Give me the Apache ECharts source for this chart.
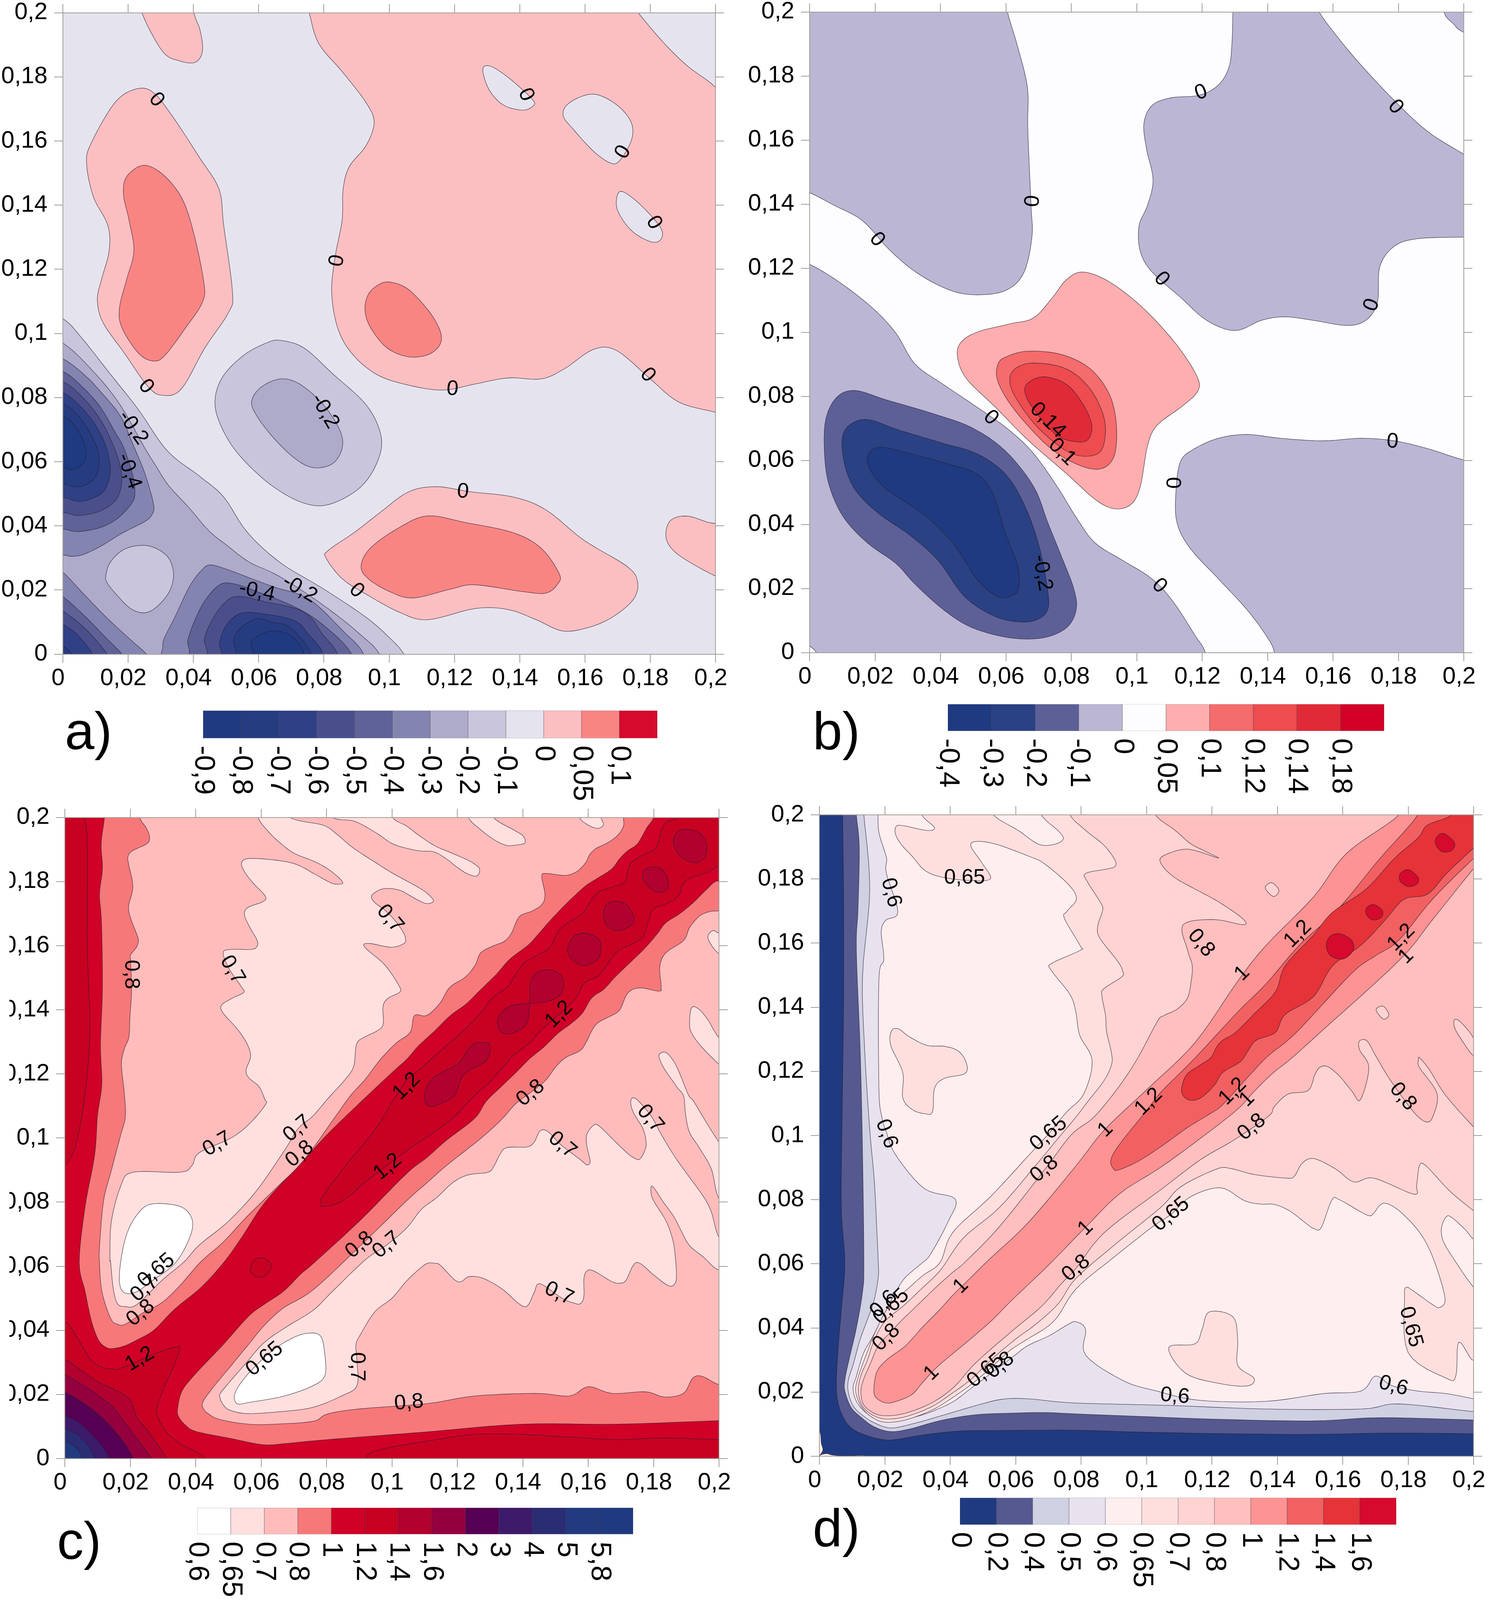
<!DOCTYPE html>
<html>
<head>
<meta charset="utf-8">
<style>html,body{margin:0;padding:0;background:#fff;overflow:hidden}#chart{width:3810px;height:4183px}</style>
<script src="https://cdn.jsdelivr.net/npm/echarts@6/dist/echarts.min.js"></script>
</head>
<body>
<div id="chart"></div>
<script>
// Tick labels (axis values run 0 .. 0.2 with the Polish decimal comma)
const tickLabels = ['0','0,02','0,04','0,06','0,08','0,1','0,12','0,14','0,16','0,18','0,2'];

// Colour-bar categories
const barLabelsA = ['-0,9','-0,8','-0,7','-0,6','-0,5','-0,4','-0,3','-0,2','-0,1','0','0,05','0,1'];
const barLabelsB = ['-0,4','-0,3','-0,2','-0,1','0','0,05','0,1','0,12','0,14','0,18'];
const barLabelsC = ['0,6','0,65','0,7','0,8','1','1,2','1,4','1,6','2','3','4','5','5,8'];
const barLabelsD = ['0','0,2','0,4','0,5','0,6','0,65','0,7','0,8','1','1,2','1,4','1,6'];

const coloursA = ['#1f3a80','#253c81','#2f4085','#4a4f8c','#5f6297','#8484b1','#aeaaca','#c8c5dc','#e5e4ee','#fcbfc1','#f98583','#d60a2c'];
const coloursB = ['#1f3a80','#2a4183','#5d6097','#bab6d4','#fdfdff','#feaeae','#f46c6c','#ee4c4e','#e12a38','#d30027'];
const coloursC = ['#ffffff','#ffe0df','#ffbcbb','#f77879','#d00027','#c70022','#b2002f','#94003e','#550053','#3e1a6b','#2a2d74','#213a80','#1f3a80'];
const coloursD = ['#1f3a80','#56598f','#d0d0e3','#e8e2ef','#ffeeee','#ffdfde','#ffd3d2','#ffbfbe','#fd9393','#f26161','#e53338','#d60a2c'];

// Contour regions: [band index, [x,y, x,y, ...]] in thousandths of the axis unit.
const regionsA = [
[8,[-6,-6,206,-6,206,206,-6,206]],
[9,[74,206,75.5,200,78.4,190.4,85.6,181.6,92.9,172,95.4,165.7,92.9,158.5,87.8,152,85.9,144.9,85.6,135.3,83.5,124.1,82.4,112.9,84.2,101.8,88.5,93.8,95.8,87.4,104.5,84.2,116.1,82.3,126.3,84.2,136.4,86.1,146.6,85.8,153.8,89,162.6,95,169.8,94.6,180,85.8,188.7,78.6,200,75.4,206,74,206,168,200,176.7,191.6,183.2,184.3,190.4,176.3,200,172,206]],
[8,[128.7,182.4,131.3,183.2,137.2,179.2,144,172.8,144,170.8,140.8,169.6,135,171.2,130.6,176]],
[8,[153.3,168,155.4,172,162.6,174.6,169.8,171.2,174.2,165.7,174.2,160.1,170.5,153.7,167.6,153.2,162.6,156.8,156.8,163.2]],
[8,[169.8,142.5,171.5,144.2,177,140.1,183.2,132.9,183.2,129.2,180,128.6,174.2,132.1,170.1,138.1]],
[9,[22,210,24.2,200,30.5,188,35.6,185,40.6,184.5,42.8,188,42.1,194.4,40.2,200,39,210]],
[9,[22.5,176.2,27.6,175.2,33.4,168,42.1,154.5,47.9,144.9,49.3,133.7,52,112.9,50.8,106.5,43.5,95.4,36.3,82.6,30.5,80.7,26.1,83.4,18.9,93.8,12.3,103.4,10.6,110.5,11.9,116.9,14.2,125.7,13.8,133.7,9.4,142.5,7.3,152.9,8.7,159.3,16,172]],
[10,[24.7,152.4,30.5,149.7,36.3,142.5,39.9,132.1,43.2,116.1,42.8,109.7,37.7,101.8,31.2,93,27.6,91.4,23.2,93.8,18.1,101.8,17.4,108.1,19.6,116.9,21.8,125.7,20.3,135.3,18.6,143.3,19.6,148.9]],
[10,[100.1,116,105.9,113.7,112.5,106.5,115.8,100.2,115.4,96.2,111.8,93.3,105.9,92.7,99.4,95.4,94.3,101.8,92.6,107.3,93.6,112.1,96.5,115]],
[9,[81.3,32.3,89.3,37.9,97.3,44.2,106,50.6,114.7,52.2,124.8,50.6,137.9,49,148,45,159.7,35.5,172.7,27.5,176.1,22.7,174.9,17.1,168.4,11.5,161.1,8.3,153.1,7.2,145.1,10.7,136.4,13.9,126.3,14.2,111.8,10.7,103,13.1,92.9,18.7,85.6,23.5,80.7,29.9]],
[10,[111.8,43.1,123.4,41,137.9,37.9,146.6,33,152.1,25.1,151.7,21.9,148,19,140.8,19.5,126.3,21.6,119,20.3,107.4,17.5,100.1,19.5,93.6,23.5,91.4,27.5,94.3,33.1,103,39.4]],
[9,[210,42,200,40.7,191.6,43,186.5,41.9,184.8,37.9,185.8,33.9,190.1,29.9,200,24.3,210,20]],
[7,[66.8,97.8,74,95.4,82.7,87.4,92.9,77.8,97.5,68.2,96.5,60.2,91.4,52.2,82.7,47,75.5,46.6,66.8,50.6,58,57.8,50.8,66.6,46.7,77,48.6,85.8,55.2,93,62.4,97]],
[6,[66.8,85.8,72.6,84.2,79.8,77.8,84.9,69.8,85.6,64.2,82.7,59.4,76.9,58.1,71.1,61,63.9,68.2,58.8,75.4,58,79.4,61,83.4]],
[7,[-10,109,0,104.6,5.8,98.6,14.5,87.4,23.2,76.2,32,63.4,42,55.4,49.3,49,56.6,37.9,66.8,28.4,79.8,20.4,92.9,11.5,100.1,5.1,104.5,0,108,-8,-10,-10]],
[6,[-10,100,0,97,10,87.4,17.7,77.5,25.1,64.3,28.7,58.4,32.4,52.6,38.8,45.5,44.8,38.4,50.3,33.9,57.1,28.7,64.8,25.1,72.6,20.3,82.7,13.1,91.4,5.9,97,0,100,-10,-10,-10]],
[7,[13.2,24.5,14.6,28.7,18.7,32.6,24.2,33.9,28.7,32.9,32.4,30,33.9,25.5,33.3,21,31,17,27.4,13.7,24.2,12.9,20.5,14.4,16.4,18.6,13.6,22.2]],
[5,[-10,96,0,92.1,6.8,86.9,12.3,81,17.8,74,21.4,65.6,25.1,56.5,27.8,46.8,27.4,43.6,25.1,41.3,18.2,37.7,11.4,33.5,5.9,30.9,2.2,30.5,0,30.8,-10,30]],
[4,[-10,92,0,88.2,5.9,83.4,11.4,77.2,15.9,69.4,18.7,64.3,21.4,55.9,22.1,50,21,46.8,16.8,42.3,11.4,39.4,4.5,38.2,0,39,-10,40]],
[3,[-10,88,0,85,6.3,79.8,11.4,73.3,15,66.2,17.3,59.7,18.1,54.6,17.3,50,15,46.8,10.4,44.2,4.5,43.2,0,44.2,-10,45]],
[2,[-10,85,0,81.6,5.4,77.2,10,71.4,13.2,64.9,14.6,57.8,13.6,52.6,11.4,49.7,6.8,47.8,3.6,47.8,0,48.9,-10,50]],
[1,[-10,81,0,78,4.5,74.6,8.1,69.4,10.7,63.6,11.1,59.1,10,55.2,6.8,52.6,3.1,52.2,0,53.1,-10,54]],
[0,[-10,76,0,74,3.1,72,5.9,67.5,7.1,63,6.5,59.7,4,57.8,1.7,57.5,0,58.1,-10,58]],
[5,[-6,30,0,25.6,6.8,18.3,13.6,11.2,20.5,4.7,25.6,0,30,-6,-6,-6]],
[4,[-6,22,0,18,6.8,11.8,13.6,4.7,18.1,0,22,-6,-6,-6]],
[3,[-6,17,0,13.5,6.8,8,13.6,0,16,-6,-6,-6]],
[2,[-6,12,0,9.3,4.5,6,9.2,0,12,-6,-6,-6]],
[1,[-6,5,0,2.5,2.7,0,5,-6,-6,-6]],
[5,[30,-10,30.2,0,30.6,1.5,31,4.7,34.2,11.2,38.8,21,42.5,26.1,45.2,27.8,50.3,26.4,57.1,23.8,64.8,20.9,75.5,17.1,85.6,7.5,92.2,0,94,-10]],
[4,[38,-10,38.8,0,38.4,2.8,38.4,4.7,40.2,9.9,43.4,16.4,48,21.6,52.5,21.9,59.5,19.5,71.1,14.7,79.8,9.1,88.5,0,90,-10]],
[3,[44,-10,44.3,0,43.4,4.7,45.7,10.5,49.3,15.7,53.5,18,61.7,16.4,74,13.1,79.8,5.9,84.2,0,86,-10]],
[2,[48,-10,48.6,0,48,3.4,50.3,9.3,54.8,12.8,61.7,12.5,71.1,10.4,75.5,5.9,79.8,0,81,-10]],
[1,[52.8,-10,53,0,52.4,4.7,54.4,8,59.4,11.1,64,9.9,69.7,8.3,76.2,0,78,-10]],
[0,[58,-10,58.3,0,57.7,3.4,59.4,5.4,63.9,7.2,69.7,5.9,74,0,75,-10]]
];

const regionsB = [
[4,[-6,-6,206,-6,206,206,-6,206]],
[3,[-10,210,59,210,60.5,200,63.4,189.9,66.6,176.4,66.7,163.6,67.7,139.6,68,130,65.6,118.8,60.5,113.3,52.5,111.7,43.8,112.8,33.6,118,24.9,125.2,16.2,134.8,7.5,139.6,0,143.6,-10,148]],
[3,[129.6,210,129.4,200,129.1,189.9,128.2,182.7,125,177.2,119.2,174,110.5,173.2,104.7,170.8,102.2,165.2,103,157.2,105,147.6,103.3,139.6,100.7,133.2,101.1,125.2,104.7,118.8,113.4,110.9,121.4,103.7,130.1,100.5,138.1,103.7,145.3,104.8,154,103.7,164.2,102.1,170,103.7,173.6,109.3,174.3,120.4,178.7,126.8,185.9,129.2,200,129.7,210,130,210,150,200,155.6,188.8,162.8,178.7,172.4,168.5,183.5,161.3,192.3,155.8,200,151,210]],
[3,[192,210,193.9,200,196.8,196.3,200,193.6,210,190,210,210]],
[3,[-10,125,0,121.2,9,115.7,19.1,107.7,26.4,99.7,32.2,90.1,40.9,83.7,52.5,75.7,61.2,69.3,68.5,62.1,75.7,51.8,81.5,42.2,87.3,34.2,96,28.6,104.7,23,111.2,15.8,117.8,5.4,121,0,123,-10,-10,-10]],
[4,[-5,4,0,2,0.4,1.7,2,0,3,-5,-5,-5]],
[3,[210,58,200,60.1,188.8,63.7,178.7,66.1,168.5,66.9,156.9,66.1,143.9,66.9,133.7,68.1,125,66.9,117.8,63.7,113.4,59.7,112,50.2,112.3,40.6,116.3,32.6,125,23,133.7,13.4,139.5,5.4,142.1,0,143,-10,210,-10]],
[2,[14,81.8,23.4,78.9,38,74.5,49.6,70.2,59.8,63,68.5,51.8,72.8,40.6,77.2,29.5,80.8,19.8,81.5,13.4,78.6,7.8,71.4,4.6,61.2,4.6,49.6,7.8,40.9,13.4,32.2,21.4,26.4,27.8,17.7,34.2,10.4,42.2,6.1,51.8,4.6,61.4,4.9,72.6,8.3,79.7]],
[1,[17,72.8,27.8,69.3,40.9,65.3,51.1,62.1,59.8,55.8,65.6,46.2,69.9,34.2,72.5,21.4,72.8,13.4,68.5,9.9,61.2,9.9,54,12.6,46.7,18.2,39.4,28.6,30.7,36.6,20.6,43.8,13.3,51.8,10.2,61.4,10.7,69.3]],
[0,[22,64.1,30.7,62.1,42.3,58.9,51.1,55.8,56.1,49.4,59.8,37.4,63.4,27.8,64.1,21.4,62.7,18.2,57.6,17.4,51.1,23,43.8,34.2,35.1,43,23.5,51,18.4,57.3,18,62.1]],
[5,[83.7,118.8,91.7,115.7,101.8,107.7,111.9,96.5,118.5,86.1,118.5,81.3,113.4,76.5,106.2,70.9,103.3,64.5,101.1,51.8,98.2,46.2,93.1,44.9,87.3,47.8,78.6,55.8,67,66.1,56.9,76.5,48.1,85.3,45.3,91.7,46,96.5,51.1,100,61.2,102.6,68.5,104.5,74.3,110.9,78.6,116.5]],
[6,[67,94.1,77.2,93,85.9,88.5,91.7,80.5,93.8,70.9,93.1,61.3,88.8,57.3,81.5,58.9,72.8,64.5,62.7,75.7,57.6,84.5,57.6,90.1,60.5,92.5]],
[7,[68.5,90.4,78.6,88.5,85.9,82.1,90.2,72.5,89.5,63.7,85.1,61.3,78.6,62.9,69.9,70.1,63.4,78.9,61.2,84.5,62.7,88.5]],
[8,[71.4,86.1,78.6,83.7,83.7,77.3,86.3,70.9,85.1,66.5,81.5,65.8,75.7,67.7,69.9,74.1,66.3,79.7,66.3,83.7]]
];

const regionsC = [
[4,[-6,-6,206,-6,206,206,-6,206]],
// upper-left 1.0 contour
[3,[12,206,12.1,200,11.1,191.8,11.5,184,10.6,176,11.2,167.4,11.5,147.3,10.9,129,11.3,116.8,10,107.1,9.1,94.6,6.2,78.6,4.4,61.3,6.2,52.1,8.1,43,10.2,37.1,12.4,34.8,14.5,34.3,18.2,35.1,22.5,37.2,27.3,40.1,33.7,46.7,41.8,53.5,48.7,61.3,54.1,69,61.4,80.2,73,93,81.7,102.6,99.1,119.5,104.5,124.5,108.1,128.7,113,133.3,117.9,138.2,122.7,141.8,127,146.1,131.9,151,136.1,155.8,141.6,160.1,144.7,163.5,148.3,167.7,152,171.7,155.6,175.3,159.3,178.7,163,181.1,167.2,183.9,169.7,187.2,172.1,189.6,175.1,191.8,177.9,196.7,180,200,181,206]],
// upper-left 0.8 contour
[2,[22.5,206,22.9,200,24.9,196.7,25.9,193.9,25.1,191.8,20.7,189.6,19.3,187.8,19.5,185.4,20.8,178.4,19.5,172.3,20.1,168.6,21.9,163.8,22.5,161.6,21.9,159.5,20.1,157.1,20.1,155.2,20.4,146.1,19.9,137.6,19.6,131.5,18.2,127.8,17.3,123,18.2,113.8,18.5,106.6,17.1,101,14.2,89.8,11.8,80.2,10.6,65.8,10.6,61.3,11.3,52.2,14,43.7,16.1,41.9,18.5,41.9,24.1,45.6,29.5,48.5,34.8,53.5,41.5,61.3,48.3,67.4,55.6,75.4,63.6,83.4,73,93,82.8,106.8,87.4,113.3,91.7,118.1,95.3,123,97.8,126,101.4,129.7,105.6,133,106.9,138.2,110.6,138.2,114.5,141.8,117,146.1,118.8,147.9,122.7,150.4,125.5,154,127.1,157.7,130.7,159.8,134.3,161.3,136.5,163.8,138,167.4,139.5,169.5,142.9,170.8,145.9,172.9,146.8,175.9,145.8,181.7,147.4,182.5,152.6,181.9,155.6,182.6,157.5,183.9,159.3,186,160.5,188.4,162.4,190.3,166,192.1,169.1,194.5,170.8,197.3,170.8,200,171,206]],
// upper-left 0.7 region
[1,[59,206,59.1,200,62.4,195.4,66.1,191.8,70.3,188.7,76.4,186.2,81.3,183.3,85,179.7,82.8,179.2,80.7,179.9,76.4,182.3,70.9,185.3,64.9,186.6,56.6,187.2,54.1,186,54.8,183.3,57.5,179.6,61.2,175.6,60.7,173.8,56,171.9,54.9,169.7,56.3,166.2,58.8,161.6,58.6,159.5,56.6,158.8,50.5,158.8,48.4,157.7,50.2,152.8,53.9,147.3,54.7,145.4,51.4,143.7,48,141.5,48.3,139.1,52.7,134,55.7,129.4,56.8,125.4,55.4,121.2,56.3,118.7,59.4,116,61.1,112.1,61.4,110.5,57,105,51.2,100.2,41.1,95.4,38.9,91.4,35.3,89.3,20.8,89.3,17.1,85,14.2,73.8,13.8,62.6,14,61.3,14.8,53,16.1,48.3,18.5,47.4,22,48,29.7,55.6,36.4,61.3,41.1,66.6,49.8,73.8,58.5,83.4,67.2,96.2,71.3,102.9,75.8,106.8,80.7,112.6,85.6,118.1,88.3,122.3,89.2,129.3,91.7,131.5,95.3,133.3,97.3,135.4,97.3,141.2,99,143.7,102.4,145.5,102.1,147.6,97.8,154,91.7,159.5,92.9,160.7,99.6,159.5,103.2,160.4,104.2,161.6,103.5,164.1,100.8,168,97.8,171.1,94.7,173.5,93.8,175.6,96.5,177.5,99.6,177.8,102.6,177.2,104.5,176.2,108.7,173.8,110.9,173.1,112.7,173.8,111.8,175.3,108.7,177.8,100.2,182.6,95.3,185.7,88,190.6,83.1,194.8,78.9,197.6,68.8,200,68,206]],
[1,[81,206,81.9,200,88.6,198.8,95.3,195.1,100.8,191.5,108.1,189.6,113,189.2,117.3,186.6,119.1,185.1,122.7,182.6,125.9,181.7,126.8,183.9,124.9,185.7,122.1,187.2,117.3,189.3,113,191.2,108.1,194.5,104.5,197.3,100.2,200,99,206]],
[1,[122.5,206,123.4,200,127,196.3,131.3,193,134.9,191.3,137.4,191.3,140.6,192,140.1,194.2,137.4,196,131,200,129,206]],
[1,[156,206,157.4,200,159.4,198,161.8,196.8,163.6,196.7,164.7,197.9,163.9,200,163,206]],
// white basin, upper
[0,[26.6,79.4,35.3,78.6,38.9,74.6,38.2,69,33.8,61,26.6,55.4,21.5,51.8,17.6,52.2,16.7,57.8,18.6,69,22.2,76.2]],
// lower-right 1.0 contour
[3,[206,176,200,180.2,195.9,177.2,192.2,173.5,187.9,169.9,183.7,167.1,181.2,163.8,177.6,159.5,173.3,155.2,168.4,150.4,164.8,146.4,161.1,143.7,158.1,138.8,154.4,135.4,150.8,132.7,146.5,128.4,142.2,124.8,138,120.5,133.1,115.7,128.8,111.4,125.2,106,116.7,99.3,110.6,93.8,104.5,88.9,90,74,75.9,60.8,72.2,57.6,66.9,52.2,61,48.1,56.2,44.4,48.2,35.3,40.2,26.7,35.9,21.2,34.5,15.7,34.8,13,37,10.3,40.2,8.4,50.9,6.2,60.5,4.3,66.9,4.6,75.9,5.5,90.4,6.7,110.7,8.3,139.8,10.7,168.8,10.7,200,11.8,206,12]],
// lower-right 0.8 contour
[2,[206,170.8,200,170.8,197.1,170.6,194,169.2,191,165.6,189.2,161.6,183.7,157.7,181.9,153.4,182.3,147.3,181.7,145.8,175.8,146.8,172.1,145.2,169.7,140,167.2,138.2,162.4,135.4,159.3,129.7,157.5,127.2,153.2,125.1,150.2,122.3,147.1,118.1,143.5,115,138,110.8,134.3,106.6,130.7,103,125.8,98.7,116.7,91.4,110.6,85.9,104.5,80.4,90,66,75.9,52.6,66.9,47,61,41.5,56.2,35.6,50.3,28.3,45.5,22.4,42.3,17.8,42.3,15.7,43.9,13.9,47.6,12.1,56.2,10.7,64.2,10.7,75.9,11.6,80.3,13.9,90.4,15.5,110.7,17.1,125.3,19.5,144.1,20.3,154.3,19.5,160.1,22.4,167.3,20.3,177.5,20.8,183.3,19.2,189.1,20.3,192,25.1,194.9,25.6,200,23,206,22]],
// lower-right 0.7 region
[1,[109,77.7,113.6,81.3,118.8,86.2,123.4,88.5,129.4,89.3,131.3,91.4,133.1,95,135.2,97,141.3,97.2,143.5,98.7,145.3,102.2,147.7,102,151.4,98.1,157.5,93.3,159.6,91.6,160.6,92.7,159.6,97.5,159.6,101.1,161.7,104,163.5,103.6,167.8,99.3,171.5,95.7,173.6,94,175.8,93.4,177.6,96.9,177.6,99.6,176.7,103,173.9,107.8,173,110.9,173.6,112.5,175.4,111.5,179.4,106.6,182.5,100.8,186.7,93.8,191,87.7,195.3,81.6,197.7,76.8,200,68.9,206,60,200,58.8,195.3,62.8,191,66.4,188.6,70.7,186.1,75.6,183.1,79.8,179.7,84.9,179.2,83.2,180,80.4,183.7,74.3,185.5,69.5,186.4,65.2,187,56.7,186,54,184,54.2,180,57.3,175.8,60.9,173.8,60.3,171.5,55.5,169.5,54.7,167.2,55.2,161.7,58.5,159.6,58.5,158.7,56.1,158.7,50.6,157.6,48.3,155.6,48.5,152,50,145.3,54.5,143.5,51.8,141.5,47.7,139.2,48,134.3,52.4,130.7,54.8,127,56.5,123.4,56.7,121.2,55.2,119.1,55.8,114.8,60.3,113,60.9,110.9,60.9,108.7,59.4,104.5,55.4,100,50,94.8,45.8,90.4,38.7,89,35.5,89.3,30.7,89.3,22.7,84.6,19.5,76,16,66.9,14.7,56.2,14,50.9,14.9,48.7,16.4,47.4,19.1,48.2,21.2,55.1,29.4,61,36.2,68,41.2,75.9,46.2,81.7,52,91.9,62,98.4,66.6,104.5,71.9]],
[1,[181.7,126,183.7,126.7,186.1,124,187.9,120.3,190.7,113.3,192.2,111.5,196.5,104.2,200,98.7,206,90,206,75,200,81,197.7,90.2,194,96.9,191,101.7,189.8,107.2,189.2,113,187.3,115.7,183.7,120.9,182.2,123.7]],
[1,[191.6,140.6,193.7,140.3,196.5,137,200,131.2,206,125,206,118,200,123,194.6,128.5,191.6,132.8,191,135.8]],
[1,[196.6,162.8,198.1,164.7,200,163.9,206,162,206,152,200,157.4,197.7,160.1]],
// white basin, lower
[0,[73.7,39,78.1,38.3,79.5,32.3,79.5,25.9,75.9,22.7,67.2,19.5,57,17.6,52.7,17.1,52,20.3,55.6,25.9,62.8,33.1,68.7,37.1]],
// ridge along the diagonal
[5,[187,206,187.3,200,184.3,198.8,182.5,196.3,181.5,192.4,180.3,190,177,188.4,173.3,186,172.1,183.3,171.2,179.9,167.8,178.4,163,176.6,160.5,173.5,158.1,169.9,153.8,167.1,150.8,164.4,148.3,159.5,144.1,156.8,140.4,154.6,137.4,150.4,135.5,147.3,130.7,143.7,127,138.8,122.7,134.2,119.1,130.9,114.2,126.6,108.1,121.1,104.5,118,100.6,112.1,94.8,102.6,84.6,89.8,78.8,81.8,78.4,79.5,78.8,78.6,84.6,80.2,93.3,87.4,104.5,96,113.6,102.3,119.1,106.6,125.2,113.2,129.4,116.9,133.7,121.8,136.8,125.4,142.2,129.7,145.9,133.9,155.6,142.8,158.7,148.2,163,150.4,165.4,153.4,169.1,158.3,173.9,160.7,177,163.2,178.5,168,180,171.4,184.9,173.5,187.9,175.9,189.8,180.2,196.5,182.9,200,185,206,188,206,206]],
[5,[-6,206,6,206,6.2,200,6.9,190.4,6.9,158.5,7.7,134.5,6.2,113.7,3.3,97.7,0,91.4,-6,85]],
[5,[-6,47,0,42.8,1.9,40.8,5.4,34.9,8,30.7,11.3,28.5,14.5,27.9,17.2,28.2,28.4,33,34.3,34.9,35.1,34.1,33.2,28.5,30.5,22.6,28.4,16.7,28.1,14,30.5,9,34.8,4.9,40.2,2.1,42.8,0,45,-6,-6,-6]],
[5,[91,-6,91.9,0,96.2,2.7,110.7,5.4,125.3,7.5,139.8,7.5,154.3,6.7,168.8,5.9,183.3,6.4,200,5.9,206,6,206,-6]],
[5,[60.7,62.6,62.8,61,63.1,59.4,60.7,56.7,58.5,56.7,56.7,58.6,57.8,61.8]],
// 1.4 blobs
[6,[190.3,196.3,194.1,195.1,196.2,191.8,195.9,188.2,194.1,186.2,191.6,186,188.3,187.8,186.4,190.6,186.1,193.3,187.6,195.7]],
[6,[180,184.6,182.8,183.6,184.5,180.2,184,177.5,181.5,176.6,178.8,178.1,176.7,181.1,177.3,183.6]],
[6,[168.4,173.9,171.5,172.9,173.9,169.2,173.3,166.5,169.4,164.7,166,165.9,164.6,169.5,165.7,172.9]],
[6,[159.3,163.9,163.3,161.9,163.9,158.9,163,155.8,159.3,153.8,156.3,154.6,154.1,157,153.8,159.5,155.6,162.9]],
[6,[147.7,152.5,151.4,151,152.5,147.9,151.4,144.6,148.3,142.8,144.1,142.1,142.2,141.5,141.9,138.2,140.4,134.6,135.5,132.4,132.8,133.9,132.4,137,134.3,140,137.4,141.5,141.6,142.1,142.2,143.6,142.2,147.3,143.5,151]],
[6,[127.3,129.8,129.7,129.4,129.9,126.6,128.2,123.6,122.1,119.9,120.3,115.7,118.5,112.6,113,110,110.9,110.2,110,112,110.6,115.7,113.3,119.3,120.3,123.3,123.4,127.8,125.2,129.4]],
// corner at the origin
[6,[-6,33,0,31,4.3,28,10.2,23.9,15,21.6,18.2,19.8,20.4,17.5,22,13,25.2,8.9,28.4,4.3,31.1,0,33,-6,-6,-6]],
[7,[-6,29,0,26.2,5.4,23,10.7,19.4,15,15.7,18.8,10.7,22,6.2,26.5,0,29,-6,-6,-6]],
[8,[-6,23,0,20.7,5.4,17.5,10.7,13.4,15,8.9,18.8,3.9,20.8,0,23,-6,-6,-6]],
[9,[-6,16,0,13.4,4.3,11.2,8.6,7.1,11.8,3.4,13.4,0,15,-6,-6,-6]],
[10,[-6,12,0,9.3,4.3,7.1,7.5,3.4,9.3,0,11,-6,-6,-6]],
[11,[-6,8,0,5.5,3.3,3.4,5.4,0,7,-6,-6,-6]]
];

const regionsD = [
[0,[-6,-6,206,-6,206,206,-6,206]],
[4,[-3,9,0,7.9,0.6,4,1.07,1.96,0,0.14,-3,-3]],
[4,[0,0,2.1,0.8,4,0.35,7.6,0.1,15,0,15,-3,0,-3]],
[1,[7,206,7.1,200,7.4,173.6,7.4,141.7,7,109.7,6.7,77.8,7.8,60.4,6.8,46.7,5.7,33,5.2,21.6,6.2,14.8,9.2,9.3,14,6.6,19.9,5.1,24.1,5.3,31.6,6.6,42.3,7.8,53,8,78,8.1,98,7.5,125,7,150,6.8,175,7.2,200,7,206,7,206,206]],
[2,[11,206,11.3,200,12.2,189.6,11.8,170.4,11.3,157.7,12.5,125.7,13.2,93.8,13.6,60.4,13.2,51.3,11.3,39.9,9.2,30.7,7.8,23.9,7.8,20.3,9.7,15.2,12.9,12,16.7,9.2,21.5,7.7,27.3,8.4,37,11.1,47.6,12.9,58.3,13.4,69,13.6,78,13.2,93,12.6,122,11.5,151,11,171.4,12,200,11.3,206,11.3,206,206]],
[3,[13.5,206,13.6,200,15.4,176.8,13.2,149.7,13.9,125.7,15.4,101.8,16.8,85.8,17.6,69.8,18,60.4,18,55.8,16.7,48.5,14.5,42.1,12.4,36.2,10.3,28.4,8.9,23.9,8.8,20.2,10.3,15.7,13.5,12.5,17.2,10.2,22,8.8,28.9,10.2,36.9,12.5,47.6,15.7,55.6,17.7,63.6,17.9,78,16.6,107.5,15.8,136.6,14.7,165.6,14.7,177.2,16.3,200,13.9,206,13.9,206,206]],
[4,[17.5,206,17.9,200,18.2,194.5,20,188.4,20.6,186,20.5,181.7,24,169.7,20.3,167.1,18.9,163.5,19.7,154.9,18.2,148.8,18.2,114.7,19.1,105.7,20.5,101,23.4,93.8,32.1,83.4,41.5,80.2,39.3,73,34,63,31.6,60.4,28.4,57.7,24.4,53.1,16.7,38,13.5,32.1,11.3,24.8,10.3,21.1,11.6,16.6,15.1,12.9,19.3,11.1,24.1,11.3,31.6,12.9,40.2,16.6,46.3,21.1,58.3,30.3,63.6,34.4,70,37.4,75.9,41,78.5,41.9,81.4,39.5,81.4,31.5,93,23.5,103.2,20.3,116.3,17.4,136.6,17.1,154,19.5,165.6,20.3,170,25,175,22,183,20.3,191.7,19.5,200,17.9,206,17,206,206]],
[5,[31,206,31.3,200,35.2,196,32.8,195.1,26.1,196.5,23.6,196.5,23.2,194.2,24.9,190.9,28.5,186.9,31.9,182.9,36.4,180.8,44.3,179.6,52.2,179.9,49.8,184.8,46.3,190.3,48.5,191.7,54.7,190.6,64.4,186.9,68.7,184.8,76,178.4,78.6,173.8,75.7,169.9,74.9,167.7,79.7,159.2,79.7,157.7,71.1,153.7,70.8,151.6,76.6,144,78.4,138.5,79.6,131.2,83.4,123.3,80.8,112.9,75.4,107.1,69.8,100.2,64,93.8,52.4,81,40.8,69.8,36.9,60.4,31.6,56.3,26.5,51.7,21.5,47.2,17.2,39,14.5,32.1,11.9,24.8,11.1,20.2,12.7,15.7,15.6,12.5,19.9,10.6,26.3,11.3,34.3,14.3,40.2,17.9,46.6,22.5,52.4,27.5,58.3,33,63.1,36.2,71.7,42.1,78.5,52.2,90,62,101.7,71.4,107.5,75.4,113.5,80.9,122.6,83.7,129.9,79.7,134.8,78.6,139.1,78.5,143.9,76.4,149.4,72.1,151.2,71,153.4,71.2,156.7,79.9,159.1,79.9,167.4,75.2,169.5,75.8,171.3,78.2,173.4,78.8,177.4,76.4,182.9,70.6,186.5,64.5,189.6,56,191.3,48.7,189.7,46.4,187.7,47.1,181.3,51.7,179.5,52.6,178.9,49.9,180,32.3,191.7,24.3,194.6,25.1,195.4,35.5,199,30.7,200,29.9,206,28,206,206]],
[4,[52,206,53.2,200,60.8,195.1,66.8,190.9,71.1,190.6,74.4,192.1,73.5,194.5,67.8,200,67,206]],
[4,[191.7,74.7,193.5,74.3,197.5,70.6,199.8,67.8,206,62,206,46,199.8,52.9,194.4,60.8,190.8,66.9,190.2,71.2]],
[5,[24.3,133.2,27.3,130.9,32.8,128.1,38.2,127.8,42.5,126.3,44.9,122.7,44.5,119.3,38.2,117.8,35.2,114.7,34.6,107.4,32.2,106.8,28.5,108,25.5,111.7,25.5,119.6,21.8,128.1,22.1,132.7]],
[5,[119.2,45,126.4,43.5,127.9,36.3,127.9,28.3,132.9,24.3,130.8,21.9,122.1,22.7,111.9,25.9,106.8,33.9,114.8,35,117,39.5]],
[6,[76,206,76.6,200,81.4,195.1,86.9,190.6,90.3,186,90.4,183.9,88.1,183.1,81.4,181.7,82,179,86.3,172,86.4,169.5,85.1,165.3,85.7,161.6,91.2,154.3,92.7,151.3,92.5,149.5,86.9,145.7,86.4,143.4,87.5,137.3,87.8,132.4,89.3,125.7,89.3,122,86.9,116.9,82,110.5,78.4,105.7,72.5,98.5,66,90.5,55,77.5,44,68,37,58,31,52,25.7,46.9,20,42,16.7,36,14.7,30,12.6,24.8,11.9,20.2,13,15.9,16,13,20.1,11.6,26.3,12.3,34.3,15.4,40.7,19.7,46.3,23.9,52.7,30.2,60,36.5,66,41,73,47.5,78.5,55.5,91,66.5,104.4,77.6,110.5,84,121.4,89.5,125.7,89.7,133,87.8,142.7,86.7,145.2,87.3,147.6,91.3,151.2,92.8,157.9,89.5,163.4,85.5,169.5,86.7,181.7,81.7,182.6,84.6,183.5,90.7,185.6,90.4,192.6,82.8,199.8,76.7,206,72,206,206]],
[7,[102,206,102.7,200,108.8,195.1,113.6,190.9,118,188.6,122,186.5,115,188.8,111.2,189.2,106.4,187.8,104.1,186,105.8,182.9,109.4,179.9,113.6,177.5,122.1,172.8,129.3,167.7,129.6,165.7,120.6,167.3,111.2,165.7,112.6,157.7,114,152.9,113.6,147.6,112.5,142.8,109.4,139.4,105.2,137.3,103.3,135.5,97.2,123.9,91.2,114.7,83.9,105.7,77,100.2,69,89.5,55,71.5,44.4,60.4,41.2,57.7,35.9,52.9,30.5,47.6,24.9,42.1,22,38.9,18,34.4,15.6,28.9,13.5,23.9,12.7,20.2,13.5,16.1,16.7,13.4,20.4,12.6,26.3,13.4,34.3,16.6,41.2,21.6,47.6,28.9,58.3,38.5,67.9,46.7,74,53.8,78.5,58.6,87.2,69.8,104.4,83.1,116.6,92.5,126.3,98.3,137.2,105.9,139.1,109,143.3,112.9,149.4,114,151.5,119,153.1,121.3,155.5,121.4,159.1,118.4,162.8,113.8,165.4,111.1,168,121.1,165.2,126.6,165.1,129.4,167.4,129.5,170.1,124.8,174.4,117.5,181.6,107.4,185.6,104.2,187.7,106.2,188.8,113.2,183.5,121.1,183.2,123.6,183.5,124.2,186.5,120.5,191.4,112.6,199.8,102.9,206,97,206,206]],
[6,[194.2,136.1,196.1,135.3,200,130.2,200,124.9,196.1,130.2,194.2,133.7]],
[6,[170.2,139.2,172.4,140.3,174.1,137.6,172.4,136.3]],
[6,[136.3,177.2,138.3,178.8,140.5,176.4,138.8,174.5]],
[8,[177,206,177.2,200,161.2,188,151.1,174.4,136.6,159.3,127.9,148.1,114.8,128.9,100.3,114.5,87.2,101.8,78.5,90.6,64,73,52.4,61.8,45.5,54.9,40.7,50.1,36.9,45.8,31.6,40.3,26.3,34.4,20.9,30.3,17.7,26.6,16.7,21.6,17.2,18.4,20.4,16.6,24.1,17.3,28.4,19.3,31.6,23,36.4,28.2,45,35.5,53,42.6,58.3,48.1,70,59.5,81.4,71.4,92,82,104.4,90.1,119,101,128.1,108.4,133,113.8,138.5,119.3,144.5,124.2,153.1,132.1,177.2,154.5,187.4,167.2,200,183.2,206,190,206,206]],
[9,[183,206,183,200,171.4,186.4,161.2,173.6,155.4,167.3,146.7,159.3,136.6,147.3,127.9,138.5,114.8,124.1,104.6,113.7,100.3,108.1,91.6,97,89.1,92.2,90,89.5,91.6,89.3,97.4,91.9,104.4,96.5,112.3,102.3,119,106.5,123.3,109.6,131.2,118.4,137.2,124.8,145.8,132.1,162.7,150.5,170,156,177.2,160.9,187.4,173.6,200,186.4,206,192,206,206]],
[10,[193,206,193.2,200,185.9,196.8,183,192.8,175.8,186.4,167.1,176.8,156.9,169.6,151.1,162.5,142.4,152.9,139.5,144.9,133,138,127.2,132.1,123.3,129.7,121.4,127.5,119.6,124.2,116,121.7,112.3,119,110.8,115,111.1,112.6,113.2,111,116.6,111.7,120.8,115.7,123.3,119.6,128.7,123,131.2,126.6,133.6,129.7,139.4,132.1,142.4,137.7,151.1,143.3,156.9,152.9,165.6,159.3,173,167.2,178.7,173.6,185.9,175.2,191.7,181.6,200,189.6,206,195,206,206]],
[11,[159.1,162.9,162.7,160.9,163.2,157.7,160.1,155,156.2,156.1,155,159.3,156.2,162.1]],
[11,[169.5,172,172.1,170.1,171.8,168,169.2,167.2,167.3,168.8,167.3,170.9]],
[11,[180.1,182.9,183,180.5,182.7,178.4,180.1,177.6,177.6,179.2,177.6,181.6]],
[11,[191,194.1,194.2,191.2,193.2,188.8,190.3,188.5,188.4,190.9,188.8,193.1]]
];

// Contour labels: [x, y, text, angle], x/y in thousandths of the axis unit.
const labelsA = [[28.7,172.8,'0',-50],[25.5,83.4,'0',-50],[83.2,122.8,'0',-100],[119.4,82.6,'0',-5],[179.2,87,'0',-50],[122.6,50.6,'0',-5],[90,19.8,'0',-45],[141.9,174.4,'0',-65],[171.7,156.5,'0',60],[181.1,134.5,'0',-60],[80.3,75.7,'-0,2',-60],[21.5,70.6,'-0,2',-55],[20.3,57,'-0,4',-70],[59.5,19.5,'-0,4',-12],[72.6,20.3,'-0,2',-30]];
const labelsB = [[20.6,128.9,'0',-50],[67.4,141,'0',-95],[119.7,174.8,'0',20],[179.1,170.3,'0',-50],[107.6,116.6,'0',-50],[171.9,108.5,'0',70],[55.4,73.3,'0',-45],[111.8,53,'0',90],[178.2,65.8,'0',-3],[106.9,20.8,'0',-45],[72.8,72.5,'0,14',-45],[77.2,62.6,'0,1',-45],[71.1,24.9,'-0,2',-80]];
const labelsC = [[20.3,151,'0,8',-90],[51.2,152.4,'0,7',-60],[99.4,168.4,'0,7',-50],[46.6,98.1,'0,7',30],[71.1,102.9,'0,7',40],[71.8,95,'0,8',40],[104.5,116.1,'1,2',45],[98.7,91,'1,2',40],[151.1,138.5,'1,2',45],[142.4,114,'0,8',40],[152.1,97.8,'0,7',-40],[179,106,'0,7',-50],[151.1,51.4,'0,7',-25],[90.1,66.6,'0,8',40],[98.4,66.6,'0,7',40],[28,58.6,'0,65',40],[24.4,53,'0,7',40],[23.2,45.4,'0,8',40],[22.9,31,'1,2',30],[61.1,31,'0,65',40],[89.3,28.6,'0,7',-90],[105.2,17.4,'0,8',5]];
const labelsD = [[21.9,175.7,'0,6',-75],[44.4,180.4,'0,65',0],[116.7,160,'0,8',-50],[146.3,162.8,'1,2',45],[129.3,150.5,'1',45],[177.9,161.7,'1,2',45],[179.4,155.8,'1',45],[20.5,100.5,'0,6',-70],[70.1,100.5,'0,65',40],[68.8,89.5,'0,8',40],[87.5,101.8,'1',45],[100.7,110.5,'1,2',45],[126.4,113.7,'1,2',45],[130.8,111.3,'1',45],[132.2,102.6,'0,8',40],[178.4,112.1,'0,8',-50],[107.5,75.4,'0,65',40],[81.4,71.1,'1',45],[78.5,58.6,'0,8',40],[43.3,53,'1',45],[19.7,47.4,'0,6',45],[22,46.6,'0,65',45],[20.5,37,'0,8',45],[34.3,25.9,'1',45],[50.9,26.7,'0,65',40],[55.3,28.3,'0,8',40],[108.7,18.7,'0,6',-5],[175.5,21.9,'0,6',-15],[180.8,40.3,'0,65',-75]];

const FONT = '"Liberation Sans", Arial, sans-serif';
// The window may show less than the full height; fit the layout vertically into what is visible.
const PAGE_H = 4183;
const vs = Math.min(1, (window.innerHeight || PAGE_H) / PAGE_H);
document.getElementById('chart').style.height = Math.round(PAGE_H * vs) + 'px';
const plots = [
  {left:158, top:33, w:1674, h:1677, regions:regionsA, colours:coloursA, labels:labelsA},
  {left:2073,top:29, w:1675, h:1677, regions:regionsB, colours:coloursB, labels:labelsB},
  {left:166, top:2137,w:1675,h:1676, regions:regionsC, colours:coloursC, labels:labelsC},
  {left:2098,top:2130,w:1675,h:1677, regions:regionsD, colours:coloursD, labels:labelsD}
];
const bars = [
  {left:520, top:1858,w:1163,h:72, names:barLabelsA, colours:coloursA},
  {left:2427,top:1841,w:1117,h:70, names:barLabelsB, colours:coloursB},
  {left:505, top:3942,w:1116,h:69, names:barLabelsC, colours:coloursC},
  {left:2458,top:3916,w:1117,h:70, names:barLabelsD, colours:coloursD}
];
const AXIS = '#a39c97';

function spline(pts, n){
  const out=[], L=pts.length;
  for(let i=0;i<L;i++){
    const p0=pts[(i-1+L)%L],p1=pts[i],p2=pts[(i+1)%L],p3=pts[(i+2)%L];
    for(let k=0;k<n;k++){
      const t=k/n,t2=t*t,t3=t2*t;
      out.push([
        0.5*(2*p1[0]+(p2[0]-p0[0])*t+(2*p0[0]-5*p1[0]+4*p2[0]-p3[0])*t2+(3*p1[0]-p0[0]-3*p2[0]+p3[0])*t3),
        0.5*(2*p1[1]+(p2[1]-p0[1])*t+(2*p0[1]-5*p1[1]+4*p2[1]-p3[1])*t2+(3*p1[1]-p0[1]-3*p2[1]+p3[1])*t3)
      ]);
    }
  }
  return out;
}

const grid=[],xAxis=[],yAxis=[],series=[];
plots.forEach(function(p,i){
  const g=grid.length;
  grid.push({left:p.left,top:p.top*vs,width:p.w,height:p.h*vs,containLabel:false});
  const xi=xAxis.length, yi=yAxis.length;
  const base={type:'value',min:0,max:0.2,interval:0.02,z:10,splitLine:{show:false},
    axisLine:{show:true,onZero:false,lineStyle:{color:AXIS,width:2}},
    axisTick:{show:true,length:22,lineStyle:{color:AXIS,width:2}}};
  const fmt=function(v){return tickLabels[Math.round(v/0.02)];};
  xAxis.push(Object.assign({},base,{gridIndex:g,position:'bottom',
    axisLabel:{show:true,margin:32,padding:[0,24,0,0],fontFamily:FONT,fontSize:61,color:'#000',formatter:fmt,showMinLabel:true,showMaxLabel:true}}));
  xAxis.push(Object.assign({},base,{gridIndex:g,position:'top',axisLabel:{show:false}}));
  yAxis.push(Object.assign({},base,{gridIndex:g,position:'left',
    axisLabel:{show:true,margin:39,fontFamily:FONT,fontSize:61,color:'#000',formatter:fmt,showMinLabel:true,showMaxLabel:true}}));
  yAxis.push(Object.assign({},base,{gridIndex:g,position:'right',axisLabel:{show:false}}));
  series.push({type:'custom',xAxisIndex:xi,yAxisIndex:yi,coordinateSystem:'cartesian2d',clip:true,z:2,silent:true,
    data:p.regions.map(function(r,k){return [0.1,0.1,k];}),
    renderItem:function(params,api){
      const r=p.regions[params.dataIndex], f=r[1], pts=[];
      for(let j=0;j<f.length;j+=2){pts.push(api.coord([f[j]/1000,f[j+1]/1000]));}
      const isBase=params.dataIndex===0;
      return {type:'polygon',shape:{points:isBase?pts:spline(pts,6)},
        style:{fill:p.colours[r[0]],stroke:isBase?null:'rgba(40,30,50,0.78)',lineWidth:isBase?0:1.3}};
    }});
  series.push({type:'scatter',xAxisIndex:xi,yAxisIndex:yi,z:4,silent:true,symbolSize:1,itemStyle:{color:'rgba(0,0,0,0)'},
    data:p.labels.map(function(l){return {value:[l[0]/1000,l[1]/1000],
      label:{show:true,position:'inside',formatter:l[2],rotate:l[3],fontFamily:FONT,fontSize:54,color:'#000',opacity:1}};})});
});
bars.forEach(function(b){
  const g=grid.length,n=b.names.length,xi=xAxis.length,yi=yAxis.length;
  grid.push({left:b.left,top:b.top*vs,width:b.w,height:b.h*vs,containLabel:false});
  xAxis.push({type:'value',gridIndex:g,min:0,max:n,interval:1,splitLine:{show:false},
    axisLine:{show:false},axisTick:{show:false},
    axisLabel:{show:true,rotate:-90,margin:19,fontFamily:FONT,fontSize:73,color:'#000',showMinLabel:true,showMaxLabel:true,
      formatter:function(v){const s=b.names[Math.round(v)];return s===undefined?'':s;}}});
  yAxis.push({type:'value',gridIndex:g,min:0,max:1,show:false});
  series.push({type:'custom',xAxisIndex:xi,yAxisIndex:yi,coordinateSystem:'cartesian2d',clip:true,silent:true,
    data:b.names.map(function(_,k){return [k,0];}),
    renderItem:function(params,api){
      const k=params.dataIndex,a=api.coord([k,1]),c=api.coord([k+1,0]);
      return {type:'rect',shape:{x:a[0],y:a[1],width:c[0]-a[0],height:c[1]-a[1]},
        style:{fill:b.colours[k],stroke:'rgba(60,55,75,0.55)',lineWidth:1}};
    }});
});

const letter=function(t,x,y){return {type:'text',left:x,top:y*vs,z:50,style:{text:t,fontFamily:FONT,fontSize:136,fill:'#000'}};};
const chart=echarts.init(document.getElementById('chart'),null,{renderer:'canvas'});
chart.setOption({animation:false,backgroundColor:'#fff',grid:grid,xAxis:xAxis,yAxis:yAxis,series:series,
  graphic:[
    letter('a)',166,1851),letter('b)',2081,1851),letter('c)',146,3968),letter('d)',2081,3934),
    {type:'rect',left:0,top:2100*vs,z:60,shape:{width:24,height:1760*vs},style:{fill:'#fff'}}
  ]});
</script>
</body>
</html>
